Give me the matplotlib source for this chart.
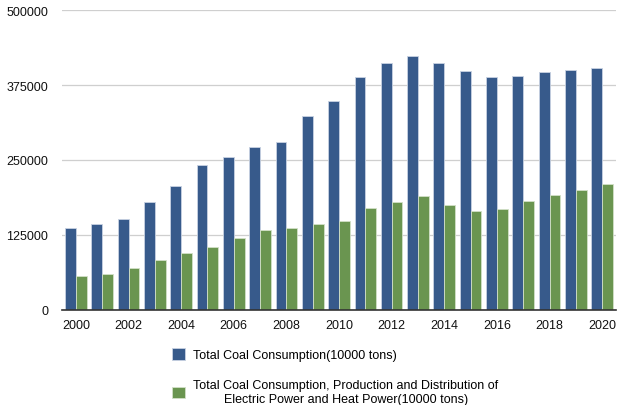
import matplotlib.pyplot as plt
import numpy as np

plt.rcParams['font.family'] = ['Liberation Sans', 'DejaVu Sans']

years = list(range(2000, 2021))
total_coal = [135900, 143600, 152000, 179900, 206600, 242200, 254500, 272200, 280600, 324000,
              348000, 388600, 411500, 423700, 412500, 399100, 388600, 390800, 397000, 400800, 404100]
power_heat_coal = [55800, 59100, 69100, 82500, 94200, 104200, 119700, 133100, 135900, 142600,
                   148600, 170300, 179900, 189400, 175400, 164300, 168700, 182000, 191000, 200400, 209900]
yticks = [0, 125000, 250000, 375000, 500000]

label_total = 'Total Coal Consumption(10000 tons)'
label_power = ('Total Coal Consumption, Production and Distribution of\n'
               'Electric Power and Heat Power(10000 tons)')

fig = plt.figure(figsize=(6.17, 4.06), dpi=100)
ax = fig.add_axes([0.1005, 0.2347, 0.898, 0.7375])

x = np.arange(len(years))
w = 0.41
b1 = ax.bar(x - w / 2, total_coal, w, color='#375a8b', edgecolor='#c8d2e2', linewidth=0.6,
            label=label_total, zorder=3)
b2 = ax.bar(x + w / 2, power_heat_coal, w, color='#6a9550', edgecolor='#d2e0c8', linewidth=0.6,
            label=label_power, zorder=3)

ax.set_xlim(-0.53, len(years) - 0.47)
ax.set_ylim(0, 500000)
ax.set_yticks(yticks)
ax.set_yticklabels([str(v) for v in yticks])
ax.set_xticks(x[::2])
ax.set_xticklabels([str(y) for y in years[::2]])
ax.tick_params(length=0, labelsize=9, colors='#111111')
ax.tick_params(axis='x', pad=7)
ax.tick_params(axis='y', pad=10)
ax.yaxis.grid(True, color='#cfcfcf', linewidth=0.9, zorder=0)
for s in ['top', 'right', 'left']:
    ax.spines[s].set_visible(False)
ax.spines['bottom'].set_color('#333333')
ax.spines['bottom'].set_linewidth(1.2)
ax.spines['bottom'].set_zorder(4)

# legend sits under the axes, second label centred on two lines
leg = fig.legend(handles=[b1, b2], loc='upper left', bbox_to_anchor=(0.279, 0.14),
                 frameon=False, fontsize=9, handlelength=1.05, handleheight=1.05,
                 handletextpad=0.65, labelspacing=1.45, borderpad=0, borderaxespad=0)
for t in leg.get_texts():
    t.set_multialignment('center')

fig.savefig('out.png', dpi=100)
